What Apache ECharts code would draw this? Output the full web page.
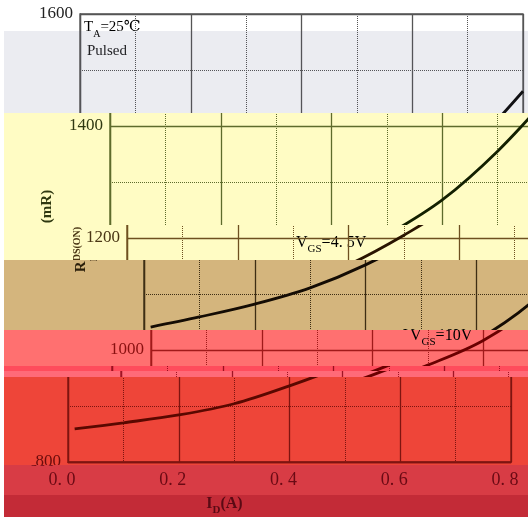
<!DOCTYPE html>
<html><head><meta charset="utf-8">
<script src="https://cdn.jsdelivr.net/npm/echarts@6/dist/echarts.min.js"></script>
<style>
html,body{margin:0;padding:0;background:#fff;}
#stage{position:relative;width:528px;height:517px;overflow:hidden;background:#fff;}
.band{position:absolute;overflow:hidden;}
.band .inner{position:absolute;width:620px;height:517px;}
</style></head><body><div id="stage"></div>
<script>
// ---- data ----
const idValues = [0.012, 0.1, 0.2, 0.3, 0.4, 0.5, 0.6, 0.7, 0.8];          // I_D (A)
const rdsVgs45 = [1041, 1059, 1082, 1111, 1152, 1205, 1268, 1355, 1462];   // R_DS(ON) mΩ, VGS=4.5V
const rdsVgs10 = [859, 870, 884, 904, 936, 973, 1017, 1085, 1180];         // R_DS(ON) mΩ, VGS=10V
const xTickLabels = [0, 0.2, 0.4, 0.6, 0.8];
const yTickLabels = [800, 1000, 1200, 1400, 1600];
const curveNames = ['VGS=4.5V', 'VGS=10V'];

// ---- horizontal bands of the (glitched) picture: style/layout only ----
const bands = [
  {top:0,   h:31, left:0, shift:0,   bg:'#ffffff', line:'#555555', text:'#222222', curve:'#111111'},
  {top:31,  h:82, left:4, shift:0,   bg:'#ebecf1', line:'#545458', text:'#222226', curve:'#111114'},
  {top:113, h:112,left:4, shift:30,  bg:'#fffcc4', line:'#5e6b2c', text:'#2f3810', curve:'#132000'},
  {top:225, h:35, left:4, shift:47,  bg:'#fffcc4', line:'#6e5020', text:'#4a3614', curve:'#2a1400'},
  {top:260, h:70, left:4, shift:64,  bg:'#d4b57d', line:'#3e2e14', text:'#2a1e0a', curve:'#140c04'},
  {top:330, h:36, left:4, shift:71,  bg:'#ff7070', line:'#a01a1a', text:'#8a1010', curve:'#6a0000'},
  {top:366, h:5,  left:4, shift:32,  bg:'#ff4c5c', line:'#9a1020', text:'#8a1010', curve:'#6a0000'},
  {top:371, h:6,  left:4, shift:41,  bg:'#ff6a78', line:'#a01424', text:'#8a1010', curve:'#6a0000'},
  {top:377, h:88, left:4, shift:-12, bg:'#ee4539', line:'#7e1410', text:'#6a0c0c', curve:'#5a0800'},
  {top:465, h:30, left:4, shift:-18, bg:'#d83c45', line:'#6e0e14', text:'#6a0a14', curve:'#5a0800'},
  {top:495, h:22, left:4, shift:-77, bg:'#c32b37', line:'#5a0a14', text:'#5a0a14', curve:'#4a0008'}
];

const SERIF = '"Liberation Serif", "DejaVu Serif", "Noto Sans CJK SC", serif';

function buildOption(c){
  const sub = (size, bold, lh) => ({fontFamily:SERIF, fontSize:size, fontWeight: bold?'bold':'normal', color:c.text, verticalAlign:'bottom', lineHeight:lh||24});
  const main = (size, bold, lh) => ({fontFamily:SERIF, fontSize:size, fontWeight: bold?'bold':'normal', color:c.text, verticalAlign:'middle', lineHeight:lh||24});
  const axisCommon = {
    axisLine:{show:true, lineStyle:{color:c.line, width:1.3}},
    axisTick:{show:false},
    splitLine:{show:true, lineStyle:{color:c.line, width:1.3}},
    minorTick:{show:false, splitNumber:2},
    minorSplitLine:{show:true, lineStyle:{color:c.line, width:1, type:'dotted'}}
  };
  return {
    animation:false,
    backgroundColor:'transparent',
    textStyle:{fontFamily:SERIF},
    grid:{left:80, top:14, width:443, height:448, containLabel:false, outerBoundsMode:'none',
      show:true, borderColor:c.line, borderWidth:1.3, backgroundColor:'transparent'},
    xAxis:Object.assign({
      type:'value', min:xTickLabels[0], max:xTickLabels[xTickLabels.length-1],
      interval:xTickLabels[1]-xTickLabels[0],
      name:'{m|I}{s|D}{m|(A)}', nameLocation:'middle', nameGap:30, nameMoveOverlap:false,
      nameTextStyle:{rich:{m:main(16,true), s:sub(11,true)}},
      axisLabel:{fontFamily:SERIF, fontSize:18, color:c.text, margin:9,
        formatter:v => v.toFixed(1).replace('.', '. ')}
    }, axisCommon),
    yAxis:Object.assign({
      type:'value', min:yTickLabels[0], max:yTickLabels[yTickLabels.length-1],
      interval:yTickLabels[1]-yTickLabels[0],
      name:'{m|R}{s|DS(ON)}{m| (mR)}', nameLocation:'middle', nameRotate:90, nameGap:45,
      nameMoveOverlap:false,
      nameTextStyle:{padding:[0,0,0,14], rich:{m:main(15,true,36), s:sub(10,true,36)}},
      axisLabel:{fontFamily:SERIF, fontSize:17, color:c.text, margin:7, formatter:v => String(v)}
    }, axisCommon),
    graphic:[
      {type:'text', x:84, y:27, style:{text:'{m|T}{s|A}{m|=25℃}', verticalAlign:'middle',
        rich:{m:main(15,false), s:sub(10,false)}}},
      {type:'text', x:87, y:51, style:{text:'Pulsed', fill:c.text, font:'15px '+SERIF, verticalAlign:'middle'}},
      {type:'text', x:249, y:243, style:{text:'{m|V}{s|GS}{m|=4. 5V}', verticalAlign:'middle',
        rich:{m:main(16,false), s:sub(11,false)}}},
      {type:'text', x:339, y:336, style:{text:'{m|V}{s|GS}{m|=10V}', verticalAlign:'middle',
        rich:{m:main(16,false), s:sub(11,false)}}}
    ],
    series:[
      {name:curveNames[0], type:'line', data:idValues.map((x,i)=>[x, rdsVgs45[i]]),
        smooth:0.35, symbol:'none', clip:true, lineStyle:{color:c.curve, width:2.8}},
      {name:curveNames[1], type:'line', data:idValues.map((x,i)=>[x, rdsVgs10[i]]),
        smooth:0.35, symbol:'none', clip:true, lineStyle:{color:c.curve, width:2.8}}
    ]
  };
}

const stage = document.getElementById('stage');
bands.forEach(b => {
  const d = document.createElement('div');
  d.className = 'band';
  d.style.left = b.left + 'px';
  d.style.top = b.top + 'px';
  d.style.width = (528 - b.left) + 'px';
  d.style.height = b.h + 'px';
  d.style.background = b.bg;
  const inner = document.createElement('div');
  inner.className = 'inner';
  inner.style.left = (b.shift - b.left) + 'px';
  inner.style.top = (-b.top) + 'px';
  d.appendChild(inner);
  stage.appendChild(d);
  const chart = echarts.init(inner, null, {renderer:'canvas', width:620, height:517});
  chart.setOption(buildOption(b));
});
</script>
</body></html>
